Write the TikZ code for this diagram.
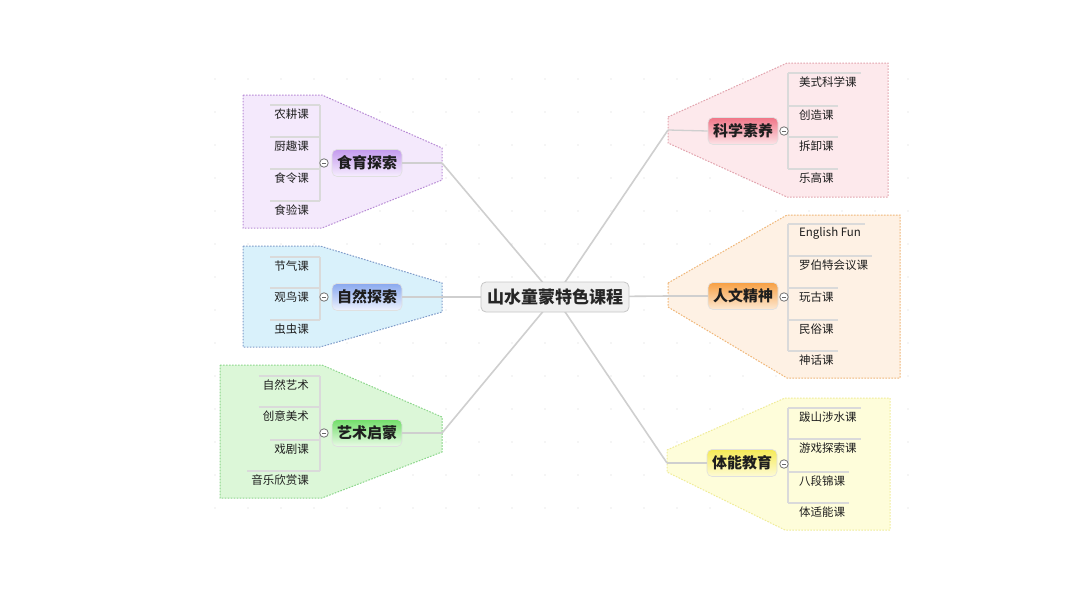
\documentclass[tikz,border=0pt]{standalone}
\usepackage{fontspec}
\setmainfont{Noto Sans CJK SC}
\definecolor{linegray}{HTML}{CFCFCF}
\definecolor{ulgray}{HTML}{DADADA}
\definecolor{txt}{HTML}{1E1E1E}
\definecolor{pAfill}{HTML}{F4E9FC}\definecolor{pAdraw}{HTML}{B78AD5}
\definecolor{pBfill}{HTML}{D9F1FB}\definecolor{pBdraw}{HTML}{7F9BC9}
\definecolor{pCfill}{HTML}{DCF7D8}\definecolor{pCdraw}{HTML}{8CD68B}
\definecolor{pDfill}{HTML}{FDE9EC}\definecolor{pDdraw}{HTML}{E2A3AD}
\definecolor{pEfill}{HTML}{FEF1E4}\definecolor{pEdraw}{HTML}{F0B677}
\definecolor{pFfill}{HTML}{FEFDDA}\definecolor{pFdraw}{HTML}{F0EC98}
\definecolor{tAtop}{HTML}{C49BEE}\definecolor{tAbot}{HTML}{F7EEFE}
\definecolor{tBtop}{HTML}{8AA9EF}\definecolor{tBbot}{HTML}{EEF3FE}
\definecolor{tCtop}{HTML}{72DE6A}\definecolor{tCbot}{HTML}{E9FBE6}
\definecolor{tDtop}{HTML}{F07587}\definecolor{tDbot}{HTML}{FDE3E7}
\definecolor{tEtop}{HTML}{F7A043}\definecolor{tEbot}{HTML}{FDE9D3}
\definecolor{tFtop}{HTML}{F5EA55}\definecolor{tFbot}{HTML}{FEFBD6}
\tikzset{
  region/.style={line width=1pt, dash pattern=on 1.6pt off 1.4pt},
  branch/.style={draw=linegray, line width=1.6pt},
  uline/.style={draw=ulgray, line width=1.3pt},
  subitem/.style={font=\fontsize{11.5}{13}\selectfont, text=txt, inner sep=2pt},
  topic/.style={rounded corners=5pt, draw=black!12, line width=0.6pt, minimum height=27pt,
    inner xsep=5pt, inner ysep=3pt, font=\bfseries\fontsize{15}{17}\selectfont, text=txt},
  central/.style={rounded corners=5pt, draw=black!22, fill=black!6, line width=0.8pt,
    minimum height=30pt, inner xsep=6pt, font=\bfseries\fontsize{17}{19}\selectfont, text=black!85},
  fold/.style={circle, draw=black!55, fill=white, line width=0.8pt, minimum size=8.5pt, inner sep=0pt,
    path picture={\draw[black!60, line width=0.8pt] ([xshift=-2pt]path picture bounding box.center) -- ([xshift=2pt]path picture bounding box.center);}},
  gdot/.style={fill=black!8}
}
\begin{document}
\begin{tikzpicture}[x=1pt,y=-1pt]
\useasboundingbox (0,0) rectangle (1080,603);
\fill[white] (0,0) rectangle (1080,603);
% faint background dots
\foreach \i in {0,...,21}{
  \foreach \j in {0,...,13}{
    \fill[gdot] ({215+33*\i},{79+33*\j}) circle (0.9pt);
  }
}
% regions
\filldraw[region, fill=pAfill, draw=pAdraw] (243,95) -- (322,95) -- (442,148) -- (442,180) -- (322,228) -- (243,228) -- cycle;
\filldraw[region, fill=pBfill, draw=pBdraw] (243,246) -- (320,246) -- (442,283) -- (442,312) -- (320,347) -- (243,347) -- cycle;
\filldraw[region, fill=pCfill, draw=pCdraw] (220,365) -- (322,365) -- (442,417) -- (442,452) -- (322,498) -- (220,498) -- cycle;
\filldraw[region, fill=pDfill, draw=pDdraw] (668,117) -- (787,63) -- (888,63) -- (888,197) -- (787,197) -- (668,143) -- cycle;
\filldraw[region, fill=pEfill, draw=pEdraw] (668,283) -- (787,215) -- (900,215) -- (900,378) -- (787,378) -- (668,307) -- cycle;
\filldraw[region, fill=pFfill, draw=pFdraw] (667,450) -- (785,398) -- (890,398) -- (890,530) -- (785,530) -- (667,472) -- cycle;

% attachment points
\coordinate (aA) at (442,163);
\coordinate (aB) at (442,297);
\coordinate (aC) at (442,433);
\coordinate (aD) at (668,130);
\coordinate (aE) at (668,296);
\coordinate (aF) at (667,463);
\coordinate (cc) at (555,297);

% main branches (behind nodes)
\draw[branch] (cc) -- (aA);
\draw[branch] (cc) -- (aB);
\draw[branch] (cc) -- (aC);
\draw[branch] (cc) -- (aD);
\draw[branch] (cc) -- (aE);
\draw[branch] (cc) -- (aF);

% central node
\node[central] (root) at (555,297) {山水童蒙特色课程};

% topic nodes
\node[topic, top color=tAtop, bottom color=tAbot] (tA) at (367,163) {食育探索};
\node[topic, top color=tBtop, bottom color=tBbot] (tB) at (367,297) {自然探索};
\node[topic, top color=tCtop, bottom color=tCbot] (tC) at (367,433) {艺术启蒙};
\node[topic, top color=tDtop, bottom color=tDbot] (tD) at (743,131) {科学素养};
\node[topic, top color=tEtop, bottom color=tEbot] (tE) at (743,296) {人文精神};
\node[topic, top color=tFtop, bottom color=tFbot] (tF) at (742,463) {体能教育};

\draw[branch, line width=1.3pt] (aA) -- (tA.east);
\draw[branch, line width=1.3pt] (aB) -- (tB.east);
\draw[branch, line width=1.3pt] (aC) -- (tC.east);
\draw[branch, line width=1.3pt] (aD) -- (tD.west);
\draw[branch, line width=1.3pt] (aE) -- (tE.west);
\draw[branch, line width=1.3pt] (aF) -- (tF.west);

% ---------- left sub items ----------
% 食育探索
\coordinate (vA) at (320,163);
\node[subitem, anchor=east] (a1) at (311,114) {农耕课};
\node[subitem, anchor=east] (a2) at (311,146) {厨趣课};
\node[subitem, anchor=east] (a3) at (311,178) {食令课};
\node[subitem, anchor=east] (a4) at (311,210) {食验课};
\foreach \n in {a1,a2,a3,a4}{
  \draw[uline] ([xshift=-2pt,yshift=9pt]\n.west) -- ([yshift=9pt]\n.west -| vA);
}
\draw[uline] ([yshift=9pt]a1.west -| vA) -- ([yshift=9pt]a4.west -| vA);
\node[fold] (fA) at (324,163) {};

% 自然探索
\coordinate (vB) at (320,297);
\node[subitem, anchor=east] (b1) at (311,266) {节气课};
\node[subitem, anchor=east] (b2) at (311,297) {观鸟课};
\node[subitem, anchor=east] (b3) at (311,329) {虫虫课};
\foreach \n in {b1,b2,b3}{
  \draw[uline] ([xshift=-2pt,yshift=9pt]\n.west) -- ([yshift=9pt]\n.west -| vB);
}
\draw[uline] ([yshift=9pt]b1.west -| vB) -- ([yshift=9pt]b3.west -| vB);
\node[fold] (fB) at (324,297) {};

% 艺术启蒙
\coordinate (vC) at (320,433);
\node[subitem, anchor=east] (c1) at (311,385) {自然艺术};
\node[subitem, anchor=east] (c2) at (311,416) {创意美术};
\node[subitem, anchor=east] (c3) at (311,449) {戏剧课};
\node[subitem, anchor=east] (c4) at (311,480) {音乐欣赏课};
\foreach \n in {c1,c2,c3,c4}{
  \draw[uline] ([xshift=-2pt,yshift=9pt]\n.west) -- ([yshift=9pt]\n.west -| vC);
}
\draw[uline] ([yshift=9pt]c1.west -| vC) -- ([yshift=9pt]c4.west -| vC);
\node[fold] (fC) at (324,433) {};

% ---------- right sub items ----------
% 科学素养
\coordinate (vD) at (788,131);
\node[subitem, anchor=west] (d1) at (797,82) {美式科学课};
\node[subitem, anchor=west] (d2) at (797,115) {创造课};
\node[subitem, anchor=west] (d3) at (797,146) {拆卸课};
\node[subitem, anchor=west] (d4) at (797,178) {乐高课};
\foreach \n in {d1,d2,d3,d4}{
  \draw[uline] ([yshift=9pt]\n.east -| vD) -- ([xshift=2pt,yshift=9pt]\n.east);
}
\draw[uline] ([yshift=9pt]d1.east -| vD) -- ([yshift=9pt]d4.east -| vD);
\node[fold] (fD) at (784,131) {};

% 人文精神
\coordinate (vE) at (788,296);
\node[subitem, anchor=west] (e1) at (797,233) {English Fun};
\node[subitem, anchor=west] (e2) at (797,265) {罗伯特会议课};
\node[subitem, anchor=west] (e3) at (797,297) {玩古课};
\node[subitem, anchor=west] (e4) at (797,329) {民俗课};
\node[subitem, anchor=west] (e5) at (797,360) {神话课};
\foreach \n in {e1,e2,e3,e4,e5}{
  \draw[uline] ([yshift=9pt]\n.east -| vE) -- ([xshift=2pt,yshift=9pt]\n.east);
}
\draw[uline] ([yshift=9pt]e1.east -| vE) -- ([yshift=9pt]e5.east -| vE);
\node[fold] (fE) at (784,297) {};

% 体能教育
\coordinate (vF) at (788,463);
\node[subitem, anchor=west] (f1) at (797,417) {跋山涉水课};
\node[subitem, anchor=west] (f2) at (797,448) {游戏探索课};
\node[subitem, anchor=west] (f3) at (797,481) {八段锦课};
\node[subitem, anchor=west] (f4) at (797,512) {体适能课};
\foreach \n in {f1,f2,f3,f4}{
  \draw[uline] ([yshift=9pt]\n.east -| vF) -- ([xshift=2pt,yshift=9pt]\n.east);
}
\draw[uline] ([yshift=9pt]f1.east -| vF) -- ([yshift=9pt]f4.east -| vF);
\node[fold] (fF) at (784,464) {};
\end{tikzpicture}
\end{document}
